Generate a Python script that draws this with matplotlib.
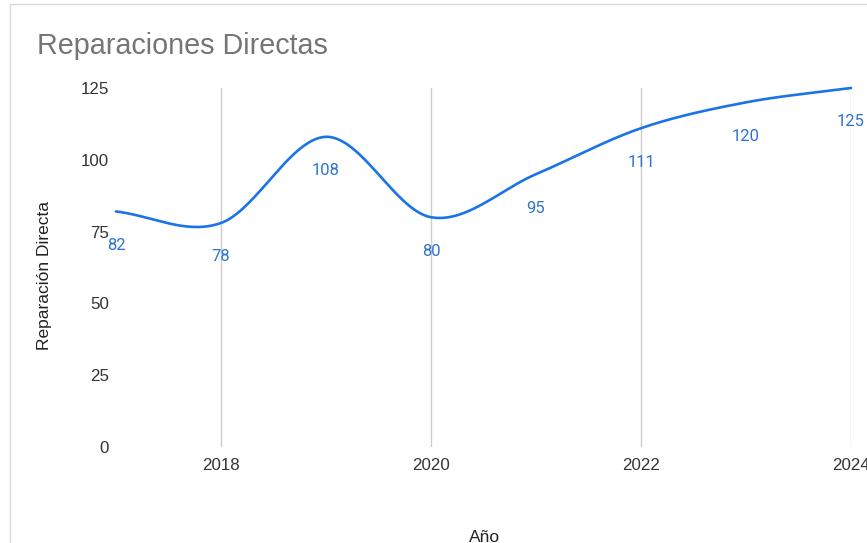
import numpy as np
import matplotlib
matplotlib.use("Agg")
import matplotlib.pyplot as plt
from matplotlib.patches import Rectangle

years = [2017, 2018, 2019, 2020, 2021, 2022, 2023, 2024]
values = [82, 78, 108, 80, 95, 111, 120, 125]
xticks = [2018, 2020, 2022, 2024]
yticks = [0, 25, 50, 75, 100, 125]
title = "Reparaciones Directas"
xlabel = "Año"
ylabel = "Reparación Directa"

plt.rcParams['font.family'] = ['Liberation Sans', 'DejaVu Sans']

W, H = 867, 543
fig = plt.figure(figsize=(W / 100, H / 100), dpi=100)

def catmull_rom(x, y, per=60):
    x = np.asarray(x, float); y = np.asarray(y, float)
    k = len(x)
    m = np.empty(k)
    m[0] = (y[1] - y[0]) / (x[1] - x[0])
    m[-1] = (y[-1] - y[-2]) / (x[-1] - x[-2])
    for i in range(1, k - 1):
        m[i] = (y[i + 1] - y[i - 1]) / (x[i + 1] - x[i - 1])
    xs_all, ys_all = [], []
    for i in range(k - 1):
        h = x[i + 1] - x[i]
        t = np.linspace(0, 1, per, endpoint=(i == k - 2))
        h00 = 2 * t**3 - 3 * t**2 + 1
        h10 = t**3 - 2 * t**2 + t
        h01 = -2 * t**3 + 3 * t**2
        h11 = t**3 - t**2
        xs_all.append(x[i] + t * h)
        ys_all.append(h00 * y[i] + h10 * h * m[i] + h01 * y[i + 1] + h11 * h * m[i + 1])
    return np.concatenate(xs_all), np.concatenate(ys_all)

left, right, top, bottom = 116, 851, 88, 447
ax = fig.add_axes([left / W, 1 - bottom / H, (right - left) / W, (bottom - top) / H])

xs, ys = catmull_rom(years, values)
ax.plot(xs, ys, color='#1a73e8', lw=1.9, solid_capstyle='round', clip_on=False, zorder=3)

for x, v in zip(years, values):
    ax.annotate(str(v), (x, v), xytext=(0, -34), textcoords='offset pixels',
                ha='center', va='center', fontsize=12, color='#2f73cf', zorder=4,
                family=['Roboto', 'DejaVu Sans'])

ax.set_xlim(2017, 2024)
ax.set_ylim(0, 125)
ax.set_xticks(xticks)
ax.set_xticklabels([str(t) for t in xticks])
ax.set_yticks(yticks)
ax.grid(axis='x', color='#cccccc', lw=1)
ax.grid(axis='y', visible=False)
for s in ax.spines.values():
    s.set_visible(False)
ax.tick_params(axis='both', length=0, labelsize=12.2, labelcolor='#333333')
ax.tick_params(axis='x', pad=8)
ax.tick_params(axis='y', pad=5)

fig.text(37 / W, 1 - 46 / H, title, fontsize=20.7, color='#757575', ha='left', va='center')
fig.text(485 / W, 1 - 537 / H, xlabel, fontsize=12.5, color='#222222', ha='center', va='center')
fig.text(45 / W, 1 - 276 / H, ylabel, fontsize=12.5, color='#222222', ha='center', va='center', rotation=90)

fig.patches.append(Rectangle((9.5 / W, -0.1), 1.2, 1 - 4.5 / H + 0.1, transform=fig.transFigure,
                             fill=False, edgecolor='#d9d9d9', lw=1))

fig.savefig('out.png', dpi=100)
